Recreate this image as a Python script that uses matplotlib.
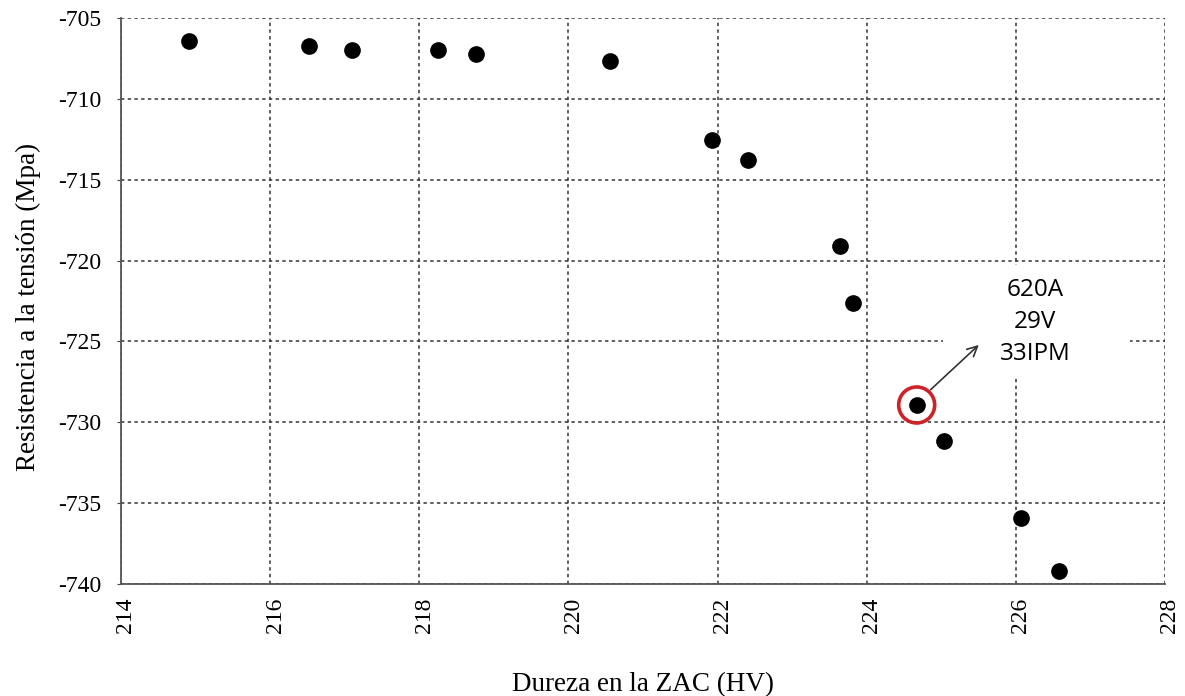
import numpy as np
from matplotlib import pyplot as plt
from matplotlib.patches import Ellipse, Rectangle
from matplotlib.transforms import ScaledTranslation

# Dureza en la ZAC (HV) vs resistencia a la tension (Mpa)
dureza = [214.91, 216.52, 217.10, 218.25, 218.76, 220.56, 221.93,
          222.41, 223.64, 223.82, 224.67, 225.04, 226.07, 226.58]
resistencia = [-706.42, -706.73, -706.98, -706.98, -707.23, -707.66, -712.54,
               -713.78, -719.10, -722.63, -728.93, -731.16, -735.92, -739.20]
x_ticks = [214, 216, 218, 220, 222, 224, 226, 228]
y_ticks = [-740, -735, -730, -725, -720, -715, -710, -705]
punto = (224.67, -728.93)
nota = "620A\n29V\n33IPM"

serif = ['Liberation Serif', 'DejaVu Serif']

fig = plt.figure(figsize=(11.85, 6.96), dpi=100)
ax = fig.add_axes([121/1185, 1-584/696, (1165-121)/1185, (584-18)/696])

ax.plot(dureza, resistencia, 'o', color='black', markersize=11, zorder=4)

ax.set_xlim(214, 228)
ax.set_ylim(-740, -705)
ax.set_xticks(x_ticks)
ax.set_yticks(y_ticks)
ax.set_xticklabels([str(t) for t in x_ticks], rotation=90, family=serif, fontsize=17)
ax.set_yticklabels([str(t) for t in y_ticks], family=serif, fontsize=17)
ax.tick_params(axis='x', direction='in', length=0, pad=10)
ax.tick_params(axis='y', direction='out', length=3, pad=11, color='#444')
# etiquetas del eje x un poco a la derecha, como en el original
desplaza = ScaledTranslation(5/100, 0, fig.dpi_scale_trans)
for lab in ax.get_xticklabels():
    lab.set_transform(lab.get_transform() + desplaza)

ax.grid(True, linestyle=(0, (2.2, 2.2)), color='#333333', linewidth=1.1)
for s in ['top', 'right']:
    ax.spines[s].set_visible(False)
for s in ['left', 'bottom']:
    ax.spines[s].set_color('#555555')
    ax.spines[s].set_linewidth(1.3)

ax.set_xlabel('Dureza en la ZAC (HV)', family=serif, fontsize=19.5)
ax.xaxis.set_label_coords(0.5, -0.155)
ax.set_ylabel('Resistencia a la tensión (Mpa)', family=serif, fontsize=19.5)
ax.yaxis.set_label_coords(-80/1044, 0.49)

# circulo rojo alrededor del punto
rx = 18 / 74.57
ry = 18 / 16.17
ax.add_patch(Ellipse(punto, 2*rx, 2*ry, fill=False, edgecolor='#cc2229',
                     linewidth=2.6, zorder=5))

# caja blanca detras del texto (tapa la reticula)
ax.add_patch(Rectangle((225.02, -727.2), 2.51, 6.93, facecolor='white',
                       edgecolor='none', zorder=3))
ax.text(226.26, -723.8, nota, ha='center', va='center', fontsize=17.5,
        family=['Open Sans', 'DejaVu Sans'], linespacing=1.45, zorder=6)
ax.annotate('', xy=(225.53, -725.1), xytext=(224.83, -728.1),
            arrowprops=dict(arrowstyle='->', color='#333333', lw=1.2,
                            mutation_scale=18), zorder=6)

fig.savefig('out.png', dpi=100)
